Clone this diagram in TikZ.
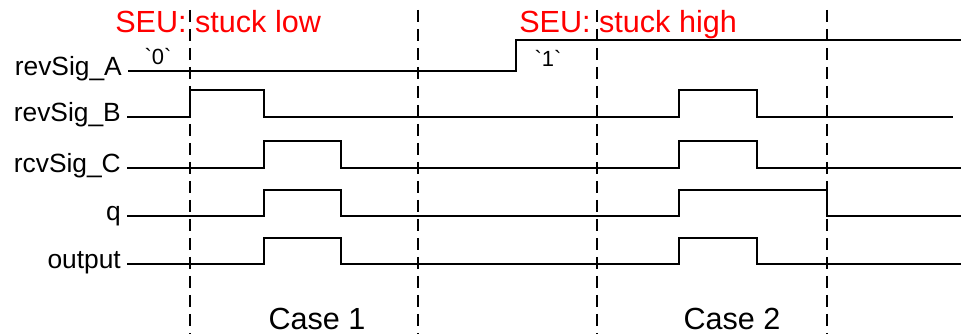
\documentclass[tikz,border=0pt]{standalone}
\usepackage{fontspec}
\setmainfont{Liberation Sans}
\usetikzlibrary{positioning}

\begin{document}
\begin{tikzpicture}[x = 0.02cm, y = -0.02cm,
    sig/.style = { anchor = east, text height = 1.4ex, text depth = .4ex, font = \fontsize{15}{18}\selectfont },
    wave/.style = { line width = 1.3pt },
    bound/.style = { line width = 1.3pt, dash pattern = on 0.24cm off 0.14cm },
    seu/.style = { anchor = base west, inner sep = 0pt, text = red, font = \fontsize{17.4}{20}\selectfont },
    level/.style = { anchor = base, inner sep = 0pt, font = \fontsize{12.5}{15}\selectfont },
    case/.style = { anchor = base, inner sep = 0pt, font = \fontsize{17.4}{20}\selectfont }]
    \useasboundingbox (0, 0) rectangle (961, 334);

    \foreach \x in {190, 418, 597, 827}
      \draw[bound] (\x, 10) -- (\x, 334);

    \node[sig] (sigA) at (128, 71) { revSig\_A };
    \node[sig] (sigB) at (127, 117) { revSig\_B };
    \node[sig] (sigC) at (127, 168) { rcvSig\_C };
    \node[sig] (q) at (127, 216) { q };
    \node[sig] (out) at (127, 264) { output };

    \draw[wave] (sigA.east) -| (516, 40) -- (961, 40);
    \draw[wave] (sigB.east) -| (190, 90) -| (264, 117) -| (679, 90) -| (757, 117) -- (953, 117);
    \draw[wave] (sigC.east) -| (264, 141) -| (341, 168) -| (679, 141) -| (757, 168) -- (961, 168);
    \draw[wave] (q.east) -| (264, 190) -| (341, 216) -| (679, 190) -| (827, 216) -- (961, 216);
    \draw[wave] (out.east) -| (264, 238) -| (341, 264) -| (679, 238) -| (757, 264) -- (961, 264);

    \node[seu] (seuLow) at (115, 33) { SEU: stuck low };
    \node[seu] (seuHigh) at (519, 33) { SEU: stuck high };
    \node[level] (lvl0) at (158, 65) { \textasciigrave 0\textasciigrave };
    \node[level] (lvl1) at (548, 67) { \textasciigrave 1\textasciigrave };

    \node[case] (case1) at (317, 330) { Case 1 };
    \node[case] (case2) at (732, 330) { Case 2 };
  \end{tikzpicture}
\end{document}
